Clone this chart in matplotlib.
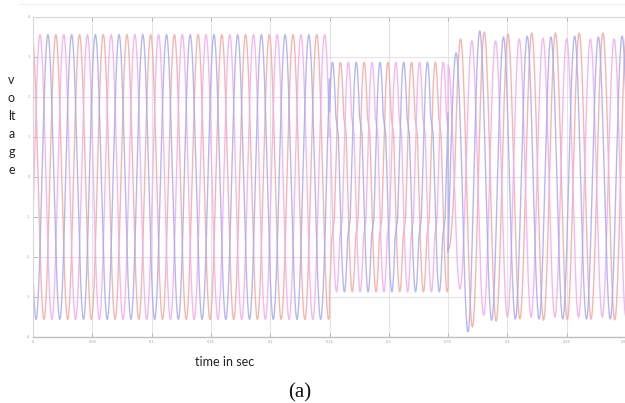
import numpy as np
import matplotlib
matplotlib.use("Agg")
import matplotlib.pyplot as plt
from matplotlib.lines import Line2D

# ---------------- data ----------------
freq = 50.0                      # Hz
t_end = 0.5                      # s
sag_start, sag_end = 0.25, 0.35  # s
phase_names = ["salmon", "magenta", "blue"]
phase_colors = ["#f5a9a1", "#f4abee", "#aaaaf4"]

# pre-sag: time of first positive peak and amplitude for each phase
pre_first_peak = [0.01923, 0.0059, 0.01257]
pre_amp = [3.56, 3.56, 3.56]

# sag: amplitude and shelf levels (waveform lingers there)
sag_first_peak = [0.01923, 0.0059, 0.01257]
sag_amp = [2.87, 2.87, 2.87]
sag_shelf_level = [1.3, 1.3, 1.3]

# post-sag: time of first extreme and successive |extreme| values
post_first_extreme = [0.3505, 0.3600, 0.3467]
post_first_sign = [-1, -1, -1]
post_extremes = [
    [1.8, 3.45, 3.75, 3.62, 3.6, 3.57, 3.55, 3.6, 3.58, 3.6, 3.57, 3.6, 3.55, 3.6, 3.57, 3.6, 3.55, 3.6, 3.57, 3.6],
    [2.8, 3.4, 3.45, 3.4, 3.5, 3.45, 3.5, 3.47, 3.5, 3.45, 3.5, 3.45, 3.5, 3.45, 3.5, 3.45, 3.5, 3.45, 3.5, 3.45],
    [3.7, 3.1, 3.87, 3.65, 3.58, 3.5, 3.55, 3.52, 3.55, 3.5, 3.55, 3.52, 3.55, 3.5, 3.55, 3.52, 3.55, 3.5, 3.55, 3.52],
]

x_ticks = [0, 0.05, 0.1, 0.15, 0.2, 0.25, 0.3, 0.35, 0.4, 0.45, 0.5]
x_tick_labels = ["0", "0.05", "0.1", "0.15", "0.2", "0.25", "0.3", "0.35", "0.4", "0.45", "0.5"]
y_ticks = [-4, -3, -2, -1, 0, 1, 2, 3, 4]
y_tick_labels = ["-4", "-3", "-2", "-1", "0", "1", "2", "3", "4"]
ylabel_letters = ["v", "o", "lt", "a", "g", "e"]
xlabel = "time in sec"
caption = "(a)"

# ---------------- waveform construction ----------------
w = 2 * np.pi * freq
t = np.linspace(0, t_end, 40001)


def shelf_warp(theta, level, amp):
    """Map uniform phase to a phase that lingers where the wave passes +-level."""
    a = np.arcsin(level / amp)
    centers = [np.pi - a, 2 * np.pi - a]
    psi_g = np.linspace(0, 2 * np.pi, 4001)
    g = np.ones_like(psi_g)
    for c in centers:
        g += 3.5 * (np.abs(psi_g - c) < 0.09)
    th_g = np.concatenate([[0], np.cumsum((g[1:] + g[:-1]) / 2 * np.diff(psi_g))])
    th_g *= 2 * np.pi / th_g[-1]
    off = np.interp(np.pi / 2, psi_g, th_g) - np.pi / 2
    th = theta + off
    k = np.floor(th / (2 * np.pi))
    return np.interp(th - 2 * np.pi * k, th_g, psi_g) + 2 * np.pi * k


signals = []
for i in range(3):
    v = np.zeros_like(t)
    pre = t < sag_start
    v[pre] = pre_amp[i] * np.cos(w * (t[pre] - pre_first_peak[i]))
    sag = (t >= sag_start) & (t < sag_end)
    theta = w * (t[sag] - sag_first_peak[i]) + np.pi / 2
    v[sag] = sag_amp[i] * np.sin(shelf_warp(theta, sag_shelf_level[i], sag_amp[i]))
    post = t >= sag_end
    ph = w * (t[post] - post_first_extreme[i]) / np.pi
    n = np.clip(np.round(ph).astype(int), 0, len(post_extremes[i]) - 1)
    amps = np.array(post_extremes[i])[n]
    v[post] = post_first_sign[i] * amps * np.cos(np.pi * ph)
    signals.append(v)

# ---------------- figure ----------------
W, H = 625, 403
fig = plt.figure(figsize=(W / 100, H / 100), dpi=100)
ax = fig.add_axes([33 / W, 1 - 337 / H, 593 / W, 320 / H])

for i in range(3):
    ax.plot(t, signals[i], color=phase_colors[i], lw=1.0, alpha=0.85)

ax.set_xlim(0, t_end)
ax.set_ylim(-4, 4)
ax.set_xticks(x_ticks)
ax.set_xticklabels(x_tick_labels)
ax.set_yticks(y_ticks)
ax.set_yticklabels(y_tick_labels)
ax.grid(True, color="#e4e4e4", lw=0.8)
ax.set_axisbelow(True)
ax.tick_params(direction="in", length=3, width=0.6, colors="#b0b0b0",
               labelsize=2.5, labelcolor="#a0a0a0", pad=2, top=True)
xl = ax.get_xticklabels()
xl[-1].set_horizontalalignment("right")
for s in ["left", "top", "right"]:
    ax.spines[s].set_color("#d8d8d8")
    ax.spines[s].set_linewidth(0.8)
ax.spines["right"].set_visible(False)
ax.spines["bottom"].set_color("#c0c0c0")
ax.spines["bottom"].set_linewidth(1.0)

fig.add_artist(Line2D([20 / W, 1], [1 - 4 / H, 1 - 4 / H], color="#efefef", lw=0.8))

for k, letter in enumerate(ylabel_letters):
    fig.text(11.5 / W, 1 - (83.5 + 18.1 * k) / H, letter, ha="center", va="baseline",
             fontsize=9, family="Lato", color="#222222")
fig.text(224.5 / W, 1 - 366 / H, xlabel, ha="center", va="baseline",
         fontsize=9, family="Lato", color="#222222")
fig.text(300 / W, 1 - 397 / H, caption, ha="center", va="baseline",
         fontsize=15, family="Liberation Serif", color="#111111")

fig.savefig("out.png", dpi=100)
